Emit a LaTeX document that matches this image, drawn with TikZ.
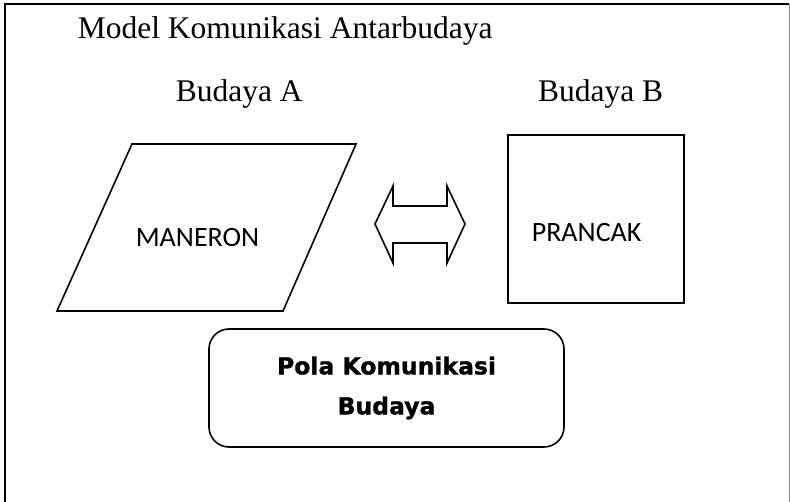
\documentclass[tikz,border=0pt]{standalone}
\usepackage{fontspec}
\setmainfont{Liberation Serif}
\newfontfamily\boxfont{Carlito}
\newfontfamily\polafont[FakeBold=1.2]{DejaVu Sans}
\usetikzlibrary{positioning}

\begin{document}
\begin{tikzpicture}[x=1pt,y=-1pt,line width=1.6pt,
  serif/.style={font=\fontsize{31.5}{36}\selectfont,inner sep=0pt},
  label/.style={font=\boxfont\fontsize{28}{32}\selectfont,inner sep=0pt},
  polabox/.style={draw,rounded corners=20pt,minimum width=355pt,minimum height=118pt,
    align=center,font=\polafont\bfseries\fontsize{23.5}{40}\selectfont}]
 \useasboundingbox (0,0) rectangle (790,502);
 % frame
 \draw[line width=2.4pt] (5,503) -- (5,4) -- (789,4);
 \draw[gray,line width=0.8pt] (789,4) -- (789,503);
 % headings
 \node[serif,anchor=base west] (title) at (77,39) {Model Komunikasi Antarbudaya};
 \node[serif,anchor=base west] (budA) at (175,102) {Budaya A};
 \node[serif,anchor=base east] (budB) at (664,102) {Budaya B};
 % culture A
 \draw (132,144) -- (356,144) -- (283,311) -- (57,311) -- cycle;
 \node[label,anchor=base west] (maneron) at (135,247) {MANERON};
 % exchange
 \draw (375,224) -- (393,186) -- (393,206) -- (447,206) -- (447,186) -- (465,224)
   -- (447,263) -- (447,243) -- (393,243) -- (393,263) -- cycle;
 % culture B
 \draw (508,135) rectangle (684,303);
 \node[label,anchor=base west] (prancak) at (531,242) {PRANCAK};
 % result
 \node[polabox] (pola) at (386.5,388) {Pola Komunikasi\\Budaya};
\end{tikzpicture}
\end{document}
